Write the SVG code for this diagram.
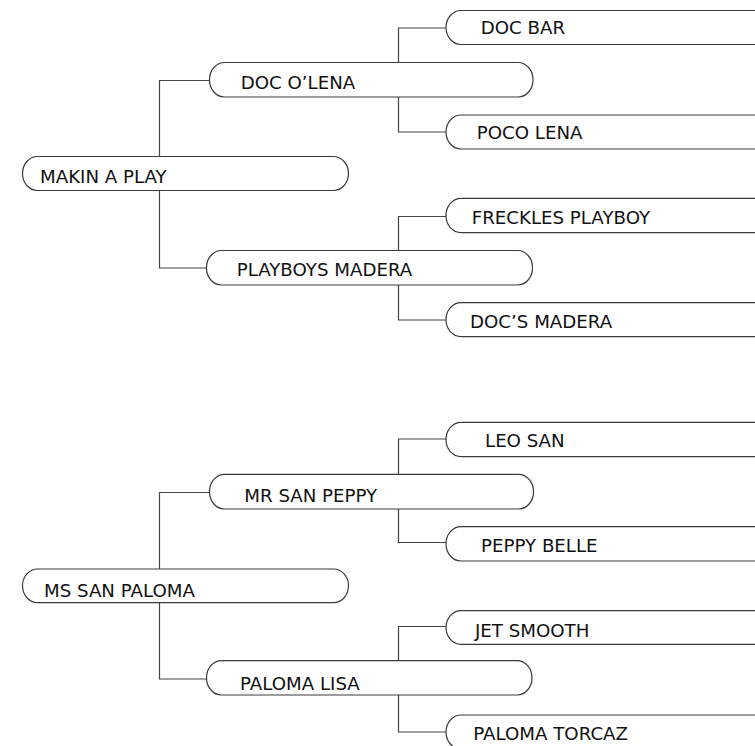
<svg xmlns="http://www.w3.org/2000/svg" width="755" height="746" viewBox="0 0 755 746">
<style>
.n{fill:#fff;stroke:#3a3a3a;stroke-width:1.2}
.c{fill:none;stroke:#444;stroke-width:1.2}
.t{font-family:"DejaVu Sans",Verdana,sans-serif;font-size:18.2px;fill:#111}
</style>
<rect width="755" height="746" fill="#fff"/>
<g id="connectors">
<path class="c" d="M159.5,156.5V80.5H209.5M159.5,190.5V268H206.5"/>
<path class="c" d="M398.5,62.5V28H446M398.5,97V132H446"/>
<path class="c" d="M398.5,250.5V216.5H446M398.5,285V320H446"/>
<path class="c" d="M159.5,569V492.5H209.5M159.5,602.5V679H206.5"/>
<path class="c" d="M398.5,474.5V439H446M398.5,509V542.5H446"/>
<path class="c" d="M398.5,660.5V626.5H446M398.5,695V732H446"/>
</g>
<g id="makin_a_play"><rect class="n" x="22.5" y="156.5" width="326" height="34" rx="15" ry="17"/><text class="t" x="40" y="183.3">MAKIN A PLAY</text></g>
<g id="doc_olena"><rect class="n" x="209.5" y="62.5" width="323.5" height="34.5" rx="15" ry="17"/><text class="t" x="240.7" y="89.3">DOC O’LENA</text></g>
<g id="playboys_madera"><rect class="n" x="206.5" y="250.5" width="326" height="34.5" rx="15" ry="17"/><text class="t" x="236.7" y="276">PLAYBOYS MADERA</text></g>
<g id="doc_bar"><rect class="n" x="446" y="10.5" width="330" height="34" rx="15" ry="17"/><text class="t" x="480.7" y="33.5">DOC BAR</text></g>
<g id="poco_lena"><rect class="n" x="446" y="115" width="330" height="34" rx="15" ry="17"/><text class="t" x="476.7" y="139">POCO LENA</text></g>
<g id="freckles_playboy"><rect class="n" x="446" y="198.3" width="330" height="34.4" rx="15" ry="17"/><text class="t" x="471.7" y="224.3">FRECKLES PLAYBOY</text></g>
<g id="docs_madera"><rect class="n" x="446" y="302.7" width="330" height="34" rx="15" ry="17"/><text class="t" x="470" y="328.3">DOC’S MADERA</text></g>
<g id="ms_san_paloma"><rect class="n" x="22.5" y="569" width="326" height="33.7" rx="15" ry="17"/><text class="t" x="44" y="596.7">MS SAN PALOMA</text></g>
<g id="mr_san_peppy"><rect class="n" x="209.5" y="474.3" width="324" height="34.7" rx="15" ry="17"/><text class="t" x="244.3" y="501.7">MR SAN PEPPY</text></g>
<g id="paloma_lisa"><rect class="n" x="206.5" y="660.7" width="325.5" height="34.3" rx="15" ry="17"/><text class="t" x="240" y="690">PALOMA LISA</text></g>
<g id="leo_san"><rect class="n" x="446" y="422.3" width="330" height="34.4" rx="15" ry="17"/><text class="t" x="485" y="447.3">LEO SAN</text></g>
<g id="peppy_belle"><rect class="n" x="446" y="526.7" width="330" height="34.3" rx="15" ry="17"/><text class="t" x="481" y="551.7">PEPPY BELLE</text></g>
<g id="jet_smooth"><rect class="n" x="446" y="610.7" width="330" height="33.6" rx="15" ry="17"/><text class="t" x="475" y="636.7">JET SMOOTH</text></g>
<g id="paloma_torcaz"><rect class="n" x="446" y="715" width="330" height="34" rx="15" ry="17"/><text class="t" x="473.3" y="740">PALOMA TORCAZ</text></g>
</svg>
